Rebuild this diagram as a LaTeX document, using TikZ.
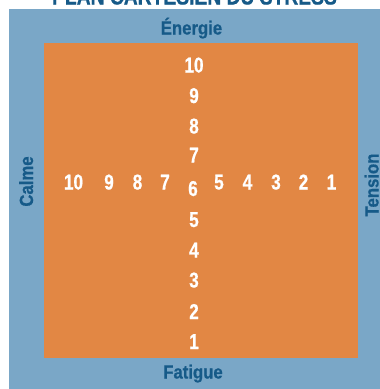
\documentclass[tikz,border=0pt]{standalone}
\usepackage{fontspec}
\setmainfont{Liberation Sans}
\newfontfamily\lblfont[FakeStretch=0.88,FakeBold=0.6]{Liberation Sans}
\newfontfamily\numfont[FakeStretch=0.8,FakeBold=0.6]{Liberation Sans}
\newfontfamily\ttlfont[FakeStretch=0.82,FakeBold=0.6]{Liberation Sans}
\definecolor{bgblue}{RGB}{122,167,199}
\definecolor{orng}{RGB}{226,135,68}
\definecolor{txtblue}{RGB}{22,90,136}
\tikzset{
  lbl/.style={inner sep=0pt, anchor=base, text=txtblue, font=\lblfont\bfseries\fontsize{19}{20}\selectfont},
  num/.style={inner sep=0pt, anchor=base, text=white, font=\numfont\bfseries\fontsize{21.5}{22}\selectfont},
  ttl/.style={inner sep=0pt, anchor=base, text=txtblue, font=\ttlfont\bfseries\fontsize{23.5}{24}\selectfont}
}
\begin{document}
\begin{tikzpicture}[x=1pt,y=-1pt]
\useasboundingbox (0,0) rectangle (380,389);
\fill[white] (0,0) rectangle (380,389);
\fill[bgblue] (9,8.7) rectangle (381,390);
\fill[orng] (43.5,43.3) rectangle (358.3,357.7);
\node[ttl] (title) at (194.5,4.5) {PLAN CARTÉSIEN DU STRESS};
\node[lbl] (energie) at (191.5,34.5) {Énergie};
\node[lbl] (fatigue) at (193,378.5) {Fatigue};
\node[lbl, rotate=90] (calme) at (33,181.5) {Calme};
\node[lbl, rotate=90] (tension) at (378.5,185) {Tension};
% vertical axis
\node[num] (v10) at (194,72.5) {10};
\node[num] (v9) at (194,103) {9};
\node[num] (v8) at (194,133.5) {8};
\node[num] (v7) at (194,162.5) {7};
\node[num] (c6) at (193,196) {6};
\node[num] (v5) at (194,227) {5};
\node[num] (v4) at (194,257.5) {4};
\node[num] (v3) at (194,287.5) {3};
\node[num] (v2) at (194,319) {2};
\node[num] (v1) at (194,349) {1};
% horizontal axis
\node[num] (h10) at (73.5,189.5) {10};
\node[num] (h9) at (109,189.5) {9};
\node[num] (h8) at (137.5,189.5) {8};
\node[num] (h7) at (165,189.5) {7};
\node[num] (h5) at (219,189.5) {5};
\node[num] (h4) at (247.5,189.5) {4};
\node[num] (h3) at (276,189.5) {3};
\node[num] (h2) at (303.5,189.5) {2};
\node[num] (h1) at (331.5,189.5) {1};
\end{tikzpicture}
\end{document}
